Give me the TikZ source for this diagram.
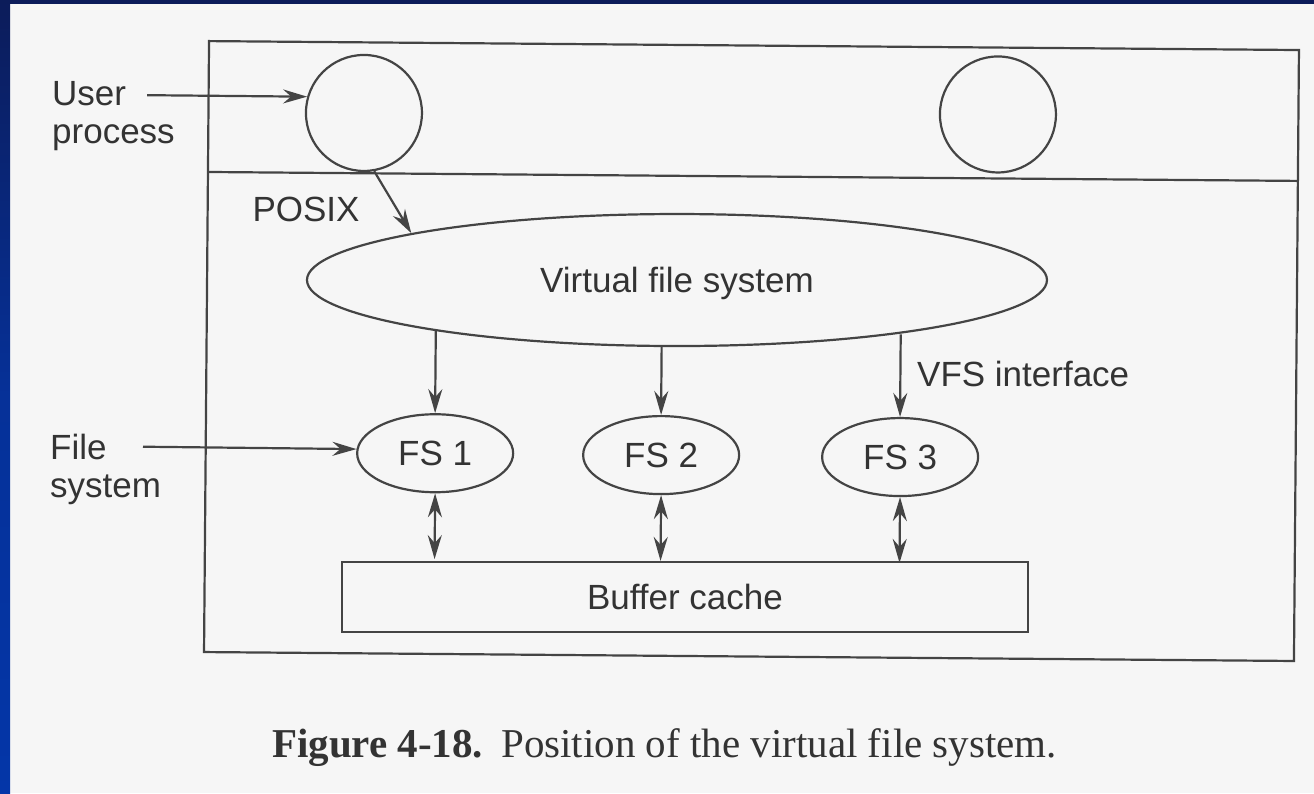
\documentclass[tikz,border=0pt]{standalone}
\usepackage{fontspec}
\setmainfont{Liberation Serif}
\newfontfamily\labelfont{Liberation Sans}
\usetikzlibrary{arrows.meta,shapes.geometric}

\definecolor{ink}{HTML}{333333}
\definecolor{stroke}{HTML}{444444}
\definecolor{paper}{HTML}{F6F6F6}
\definecolor{navy}{HTML}{0C1C5A}
\definecolor{royal}{HTML}{0436A8}

\begin{document}
\begin{tikzpicture}[x=1pt,y=-1pt,
  line/.style={draw=stroke, line width=2.2pt},
  tip/.tip={Stealth[length=24pt,width=14pt,inset=8pt]},
  arr/.style={line, -tip},
  darr/.style={line, tip-tip},
  lbl/.style={font=\labelfont\fontsize{35}{38}\selectfont, text=ink, inner sep=0pt},
  proc/.style={line, circle, minimum size=116pt, inner sep=0pt},
  fsnode/.style={line, ellipse, minimum width=156pt, minimum height=78pt,
                 inner sep=0pt, lbl, text depth=0pt},
]
% page and slide frame
\useasboundingbox (0,0) rectangle (1314,793);
\fill[paper] (0,0) rectangle (1314,793);
\fill[navy] (0,0) rectangle (1314,4);
\shade[top color=navy, bottom color=royal, middle color=royal!80!navy] (0,0) rectangle (10,793);

\begin{scope}[rotate around={-0.47:(650,350)}]
  % kernel box with the user/kernel divider
  \draw[line] (206.5,44.7) rectangle (1296.5,655.7);
  \draw[line] (206.5,175.6) -- (1296.5,175.6);

  % user processes
  \node[proc] (up1) at (362,115.3) {};
  \node[proc] (up2) at (996,111.6) {};

  % virtual file system layer
  \node[line, ellipse, minimum width=740pt, minimum height=132pt, inner sep=0pt,
        lbl, text depth=0pt] (vfs) at (676.4,279.8) {Virtual file system};

  % concrete file systems
  \node[fsnode] (fs1) at (436,455) {FS 1};
  \node[fsnode] (fs2) at (662,455) {FS 2};
  \node[fsnode] (fs3) at (901,455) {FS 3};

  % buffer cache
  \node[line, lbl, minimum width=686pt, minimum height=70pt, text depth=0pt]
        (buf) at (687,597) {Buffer cache};

  % labels
  \node[lbl, align=left, anchor=north west] (userlbl) at (49.8,86.6) {User\\process};
  \node[lbl, align=left, anchor=north west] (filelbl) at (50.7,438.4) {File\\system};
  \node[lbl, anchor=base] (posix) at (305,224.8) {POSIX};
  \node[lbl, anchor=base west] (vfsif) at (917.3,384.8) {VFS interface};

  \coordinate (usrc) at (145,99.3);
  \coordinate (fsrc) at (143.8,450.9);

  % connectors
  \draw[arr] (usrc) -- (up1.164);
  \draw[arr] (fsrc) -- (fs1.177);
  \draw[arr] (up1.280) -- (vfs.170.5);
  \draw[arr] (fs1.north |- vfs.191.8) -- (fs1.north);
  \draw[arr] (fs2.north |- vfs.257.7) -- (fs2.north);
  \draw[arr] (fs3.north |- vfs.346.9) -- (fs3.north);
  \draw[darr] (fs1.south) -- (fs1.south |- buf.north);
  \draw[darr] (fs2.south) -- (fs2.south |- buf.north);
  \draw[darr] (fs3.south) -- (fs3.south |- buf.north);
\end{scope}

% caption
\node[font=\fontsize{41}{45}\selectfont, text=ink, anchor=base west, inner sep=0pt]
  (caption) at (272,757) {\textbf{Figure 4-18.}\hspace{18pt}Position of the virtual file system.};
\end{tikzpicture}
\end{document}
